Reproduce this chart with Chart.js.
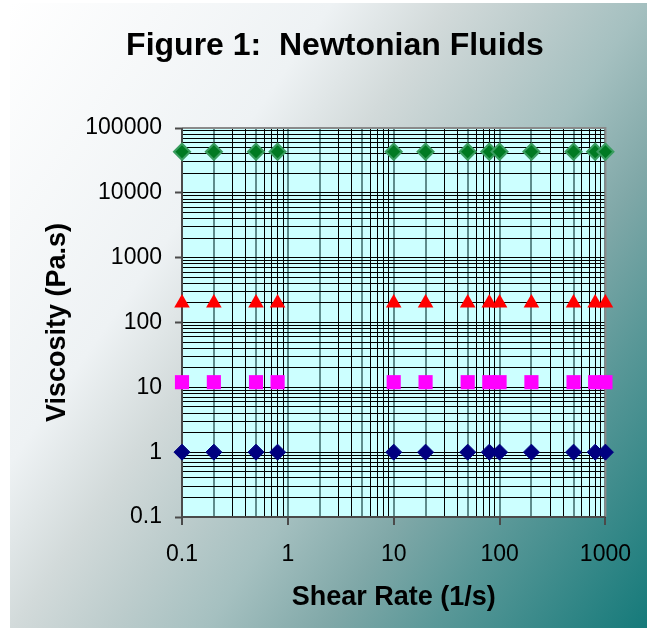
<!DOCTYPE html>
<html>
<head>
<meta charset="utf-8">
<title>Figure 1: Newtonian Fluids</title>
<script src="https://cdn.jsdelivr.net/npm/chart.js@4.4.1/dist/chart.umd.min.js"></script>
<style>
  html, body { margin: 0; padding: 0; background: #ffffff; }
  body { width: 647px; height: 638px; overflow: hidden; }
  .chartdiv { position: relative; width: 647px; height: 638px; }
  .panel {
    position: absolute;
    left: 10px;
    top: 3px;
    width: 637px;
    height: 625px;
    background: linear-gradient(125deg, #ffffff 0%, #eef2f4 30%, #d2dada 41%, #bccccc 50%,
      #a5c0c0 59%, #80a8a8 70%, #5a9898 80%, #157a7a 100%);
  }
  #myChart { position: absolute; left: 0; top: 0; }
</style>
</head>
<body>
<div class="chartdiv"><div class="panel"></div><canvas id="myChart"></canvas></div>
<script>
// shear rate (1/s) of each measurement
const shearRate = [0.1, 0.2, 0.5, 0.8, 10, 20, 50, 80, 100, 200, 500, 800, 1000];

// viscosity (Pa.s) per fluid
const fluidBlue = [1, 1, 1, 1, 1, 1, 1, 1, 1, 1, 1, 1, 1];
const fluidMagenta = [12, 12, 12, 12, 12, 12, 12, 12, 12, 12, 12, 12, 12];
const fluidRed = [200, 200, 200, 200, 200, 200, 200, 200, 200, 200, 200, 200, 200];
const fluidGreen = [43000, 43000, 43000, 43000, 43000, 43000, 43000, 43000, 43000, 43000, 43000, 43000, 43000];

const xTickLabels = ["0.1", "1", "10", "100", "1000"];
const yTickLabels = ["0.1", "1", "10", "100", "1000", "10000", "100000"];

const chartTitle = "Figure 1:  Newtonian Fluids";
const xTitle = "Shear Rate (1/s)";
const yTitle = "Viscosity (Pa.s)";

const FONT = '"Liberation Sans", Arial, sans-serif';

// 1..9 times every decade, up to the last decade
const logTicks = (labels) => {
  const decades = labels.map(Number);
  const top = decades[decades.length - 1];
  const out = [];
  decades.forEach((d) => {
    for (let k = 1; k <= 9; k++) {
      const v = d * k;
      if (v <= top * 1.0000001) out.push({ value: v });
    }
  });
  return out;
};

const significand = (v) => Math.round(v / Math.pow(10, Math.floor(Math.log10(v) + 1e-9)));
const isDecade = (v) => significand(v) === 1;

const toPoints = (ys) => ys.map((y, i) => ({ x: shearRate[i], y: y }));

const plotArea = {
  id: "plotArea",
  beforeDraw(chart) {
    const { ctx, chartArea: a } = chart;
    ctx.save();
    ctx.fillStyle = "#ccffff";
    ctx.fillRect(a.left, a.top, a.right - a.left, a.bottom - a.top);
    ctx.restore();
  },
  beforeDatasetsDraw(chart) {
    const { ctx, chartArea: a } = chart;
    ctx.save();
    ctx.lineWidth = 2;
    ctx.strokeStyle = "#8a8a8a";
    ctx.beginPath();
    ctx.moveTo(a.left, a.top);
    ctx.lineTo(a.right, a.top);
    ctx.lineTo(a.right, a.bottom);
    ctx.stroke();
    ctx.strokeStyle = "#4a4a4a";
    ctx.beginPath();
    ctx.moveTo(a.left, a.top);
    ctx.lineTo(a.left, a.bottom);
    ctx.lineTo(a.right, a.bottom);
    ctx.stroke();
    ctx.restore();
  },
  afterDraw(chart) {
    const { ctx } = chart;
    ctx.save();
    ctx.font = "bold 32px " + FONT;
    ctx.textAlign = "center";
    ctx.textBaseline = "middle";
    ctx.fillStyle = "#000000";
    ctx.fillText(chartTitle, 335, 46);
    ctx.restore();
  },
};

new Chart(document.getElementById("myChart"), {
  type: "scatter",
  data: {
    datasets: [
      {
        label: "Fluid 1",
        data: toPoints(fluidBlue),
        pointStyle: "rectRot",
        pointRadius: 8,
        backgroundColor: "#000080",
        borderColor: "#000080",
        borderWidth: 1,
        clip: false,
      },
      {
        label: "Fluid 2",
        data: toPoints(fluidMagenta),
        pointStyle: "rect",
        pointRadius: 10,
        backgroundColor: "#ff00ff",
        borderColor: "#ff00ff",
        borderWidth: 0,
        clip: false,
      },
      {
        label: "Fluid 3",
        data: toPoints(fluidRed),
        pointStyle: "triangle",
        pointRadius: 9,
        backgroundColor: "#ff0000",
        borderColor: "#ff0000",
        borderWidth: 0,
        clip: false,
      },
      {
        label: "Fluid 4",
        data: toPoints(fluidGreen),
        pointStyle: "rectRot",
        pointRadius: 8,
        backgroundColor: "#007a22",
        borderColor: "#3a9d60",
        borderWidth: 2,
        clip: false,
      },
    ],
  },
  options: {
    responsive: true,
    maintainAspectRatio: false,
    animation: false,
    layout: { padding: { top: 128, right: 41, left: 0, bottom: 0 } },
    plugins: {
      legend: { display: false },
      tooltip: { enabled: false },
    },
    scales: {
      x: {
        type: "logarithmic",
        min: 0.1,
        max: 1000,
        afterBuildTicks: (scale) => { scale.ticks = logTicks(xTickLabels); },
        afterFit: (scale) => { scale.height = 121; },
        border: { display: false },
        grid: {
          color: (c) => ([1, 2, 5].includes(significand(c.tick.value)) ? "#5e8c8c" : "#000000"),
          lineWidth: (c) => ([1, 2, 5].includes(significand(c.tick.value)) ? 2 : 1),
          tickColor: (c) => (isDecade(c.tick.value) ? "#4a4a4a" : "rgba(0,0,0,0)"),
          tickWidth: 2,
          tickLength: 8,
        },
        ticks: {
          autoSkip: false,
          maxRotation: 0,
          padding: 16,
          color: "#000000",
          font: { family: FONT, size: 23 },
          callback: (v) => (isDecade(v) ? xTickLabels[Math.round(Math.log10(v)) + 1] : ""),
        },
        title: {
          display: true,
          text: xTitle,
          color: "#000000",
          font: { family: FONT, size: 27, weight: "bold" },
          padding: { top: 0, bottom: 24 },
        },
      },
      y: {
        type: "logarithmic",
        min: 0.1,
        max: 100000,
        afterBuildTicks: (scale) => { scale.ticks = logTicks(yTickLabels); },
        afterFit: (scale) => { scale.width = 182; },
        border: { display: false },
        grid: {
          color: "#000000",
          lineWidth: 1,
          tickColor: (c) => (isDecade(c.tick.value) ? "#4a4a4a" : "rgba(0,0,0,0)"),
          tickWidth: 2,
          tickLength: 7,
        },
        ticks: {
          autoSkip: false,
          padding: 13,
          color: "#000000",
          font: { family: FONT, size: 23 },
          callback: (v) => (isDecade(v) ? yTickLabels[Math.round(Math.log10(v)) + 1] : ""),
        },
        title: {
          display: true,
          text: yTitle,
          color: "#000000",
          font: { family: FONT, size: 27, weight: "bold" },
          padding: { top: 41, bottom: 0 },
        },
      },
    },
  },
  plugins: [plotArea],
});
</script>
</body>
</html>
